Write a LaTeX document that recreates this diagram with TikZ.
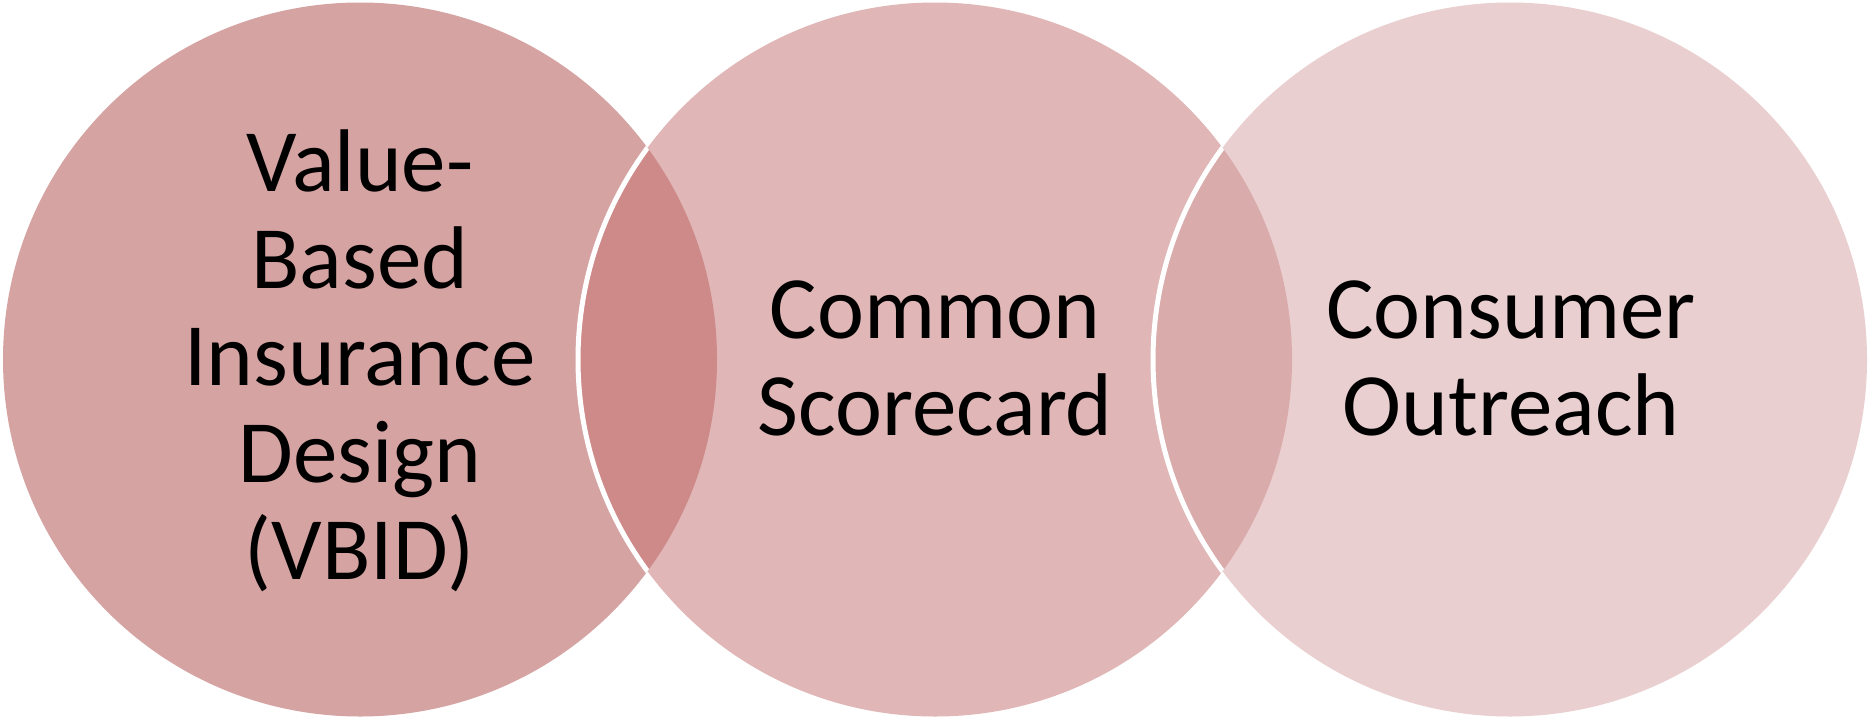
\documentclass[tikz,border=0pt]{standalone}
\usepackage{fontspec}
\setmainfont{Carlito}
\definecolor{discA}{HTML}{D6A3A3}
\definecolor{discB}{HTML}{E0B6B6}
\definecolor{discC}{HTML}{EACFD0}
\definecolor{lapAB}{HTML}{CD8A89}
\definecolor{lapBC}{HTML}{D9ABAB}
\tikzset{
  disclabel/.style={align=center, text=black, inner sep=0pt,
    font=\fontsize{89}{97}\selectfont},
  seam/.style={draw=white, line width=5pt}
}
\begin{document}
\begin{tikzpicture}[x=1pt,y=-1pt]
\useasboundingbox (0,0) rectangle (1870,718);
\def\R{357}
% three discs
\fill[discA] (360,359.5) circle (\R);
\fill[discB] (935,359.5) circle (\R);
\fill[discC] (1510,359.5) circle (\R);
% overlaps, with a white seam along the later disc's edge
\begin{scope}
  \clip (360,359.5) circle (\R);
  \fill[lapAB] (935,359.5) circle (\R);
  \draw[seam] (935,359.5) circle (\R);
\end{scope}
\begin{scope}
  \clip (935,359.5) circle (\R);
  \fill[lapBC] (1510,359.5) circle (\R);
  \draw[seam] (1510,359.5) circle (\R);
\end{scope}
% labels
\node[disclabel] (vbid) at (360,361) {Value-\\Based\\Insurance\\Design\\(VBID)};
\node[disclabel] (score) at (935,358) {Common\\Scorecard};
\node[disclabel] (reach) at (1511,358) {Consumer\\Outreach};
\end{tikzpicture}
\end{document}
